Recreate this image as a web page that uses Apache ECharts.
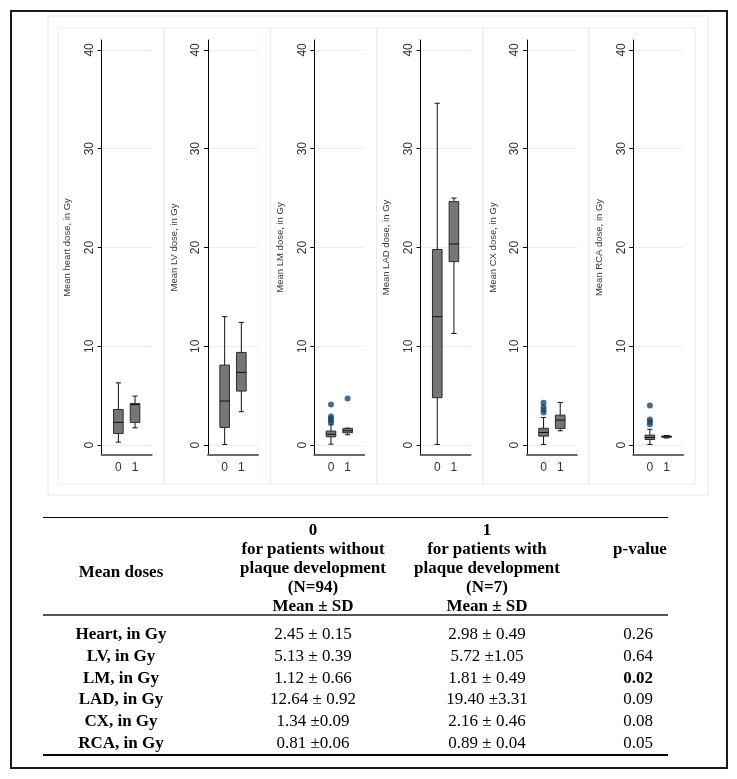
<!DOCTYPE html>
<html><head><meta charset="utf-8">
<script src="https://cdn.jsdelivr.net/npm/echarts@6/dist/echarts.min.js"></script>
<style>
html,body{margin:0;padding:0;background:#fff;}
#wrap{position:relative;width:737px;height:779px;overflow:hidden;background:#fff;}
#chart{position:absolute;left:0;top:0;width:737px;height:779px;}
#frame{position:absolute;left:10px;top:10px;width:718px;height:759px;border:2px solid #1a1a1a;box-sizing:border-box;}
.t{position:absolute;font-family:"Liberation Serif","Times New Roman",serif;font-size:17px;line-height:20px;height:20px;width:220px;text-align:center;color:#000;white-space:nowrap;}
.b{font-weight:bold;}
.hl{position:absolute;left:43px;width:625px;background:#000;}
</style></head>
<body>
<div id="wrap">
  <div id="chart"></div>
  <div id="frame"></div>
  <div id="table"></div>
</div>
<script>
// ---------- chart data ----------
const regions = ['Heart', 'LV', 'LM', 'LAD', 'CX', 'RCA'];
const axisTitles = ['Mean heart dose, in Gy', 'Mean LV dose, in Gy', 'Mean LM dose, in Gy',
                    'Mean LAD dose, in Gy', 'Mean CX dose, in Gy', 'Mean RCA dose, in Gy'];
const groups = ['0', '1'];
const yTicks = [0, 10, 20, 30, 40];
// [min, Q1, median, Q3, max] per region, group 0 (no plaque)
const boxes0 = [
  [0.3, 1.18, 2.3, 3.6, 6.3],
  [0.07, 1.79, 4.46, 8.1, 13.0],
  [0.1, 0.84, 1.1, 1.42, 2.05],
  [0.07, 4.8, 13.0, 19.8, 34.6],
  [0.07, 0.91, 1.28, 1.7, 2.8],
  [0.07, 0.57, 0.78, 1.01, 1.6]
];
// group 1 (plaque)
const boxes1 = [
  [1.75, 2.3, 4.1, 4.2, 4.96],
  [3.38, 5.47, 7.36, 9.38, 12.42],
  [1.05, 1.25, 1.45, 1.69, 1.72],
  [11.3, 18.57, 20.35, 24.64, 25.0],
  [1.45, 1.69, 2.53, 3.04, 4.32],
  [0.72, 0.8, 0.86, 0.92, 0.97]
];
const outliers0 = [[], [], [4.1, 2.9, 2.7, 2.5, 2.3], [], [4.3, 3.85, 3.55, 3.3], [4.0, 2.6, 2.36, 2.1]];
const outliers1 = [[], [], [4.73], [], [], []];

// ---------- table data ----------
const headerLabel = 'Mean doses';
const headerCol0 = ['0', 'for patients without', 'plaque development', '(N=94)', 'Mean ± SD'];
const headerCol1 = ['1', 'for patients with', 'plaque development', '(N=7)', 'Mean ± SD'];
const headerP = 'p-value';
const tableRows = ['Heart, in Gy', 'LV, in Gy', 'LM, in Gy', 'LAD, in Gy', 'CX, in Gy', 'RCA, in Gy'];
const noPlaque = ['2.45 ± 0.15', '5.13 ± 0.39', '1.12 ± 0.66', '12.64 ± 0.92', '1.34 ±0.09', '0.81 ±0.06'];
const withPlaque = ['2.98 ± 0.49', '5.72 ±1.05', '1.81 ± 0.49', '19.40 ±3.31', '2.16 ± 0.46', '0.89 ± 0.04'];
const pValues = ['0.26', '0.64', '0.02', '0.09', '0.08', '0.05'];
const significant = [false, false, true, false, false, false];

// ---------- chart ----------
const chart = echarts.init(document.getElementById('chart'), null, {renderer: 'canvas'});
const AXIS0 = 101.7, STEP = 106.3, GTOP = 40, GH = 415, GW = 50;
const FONT = '"Liberation Sans", Arial, sans-serif';

function renderBox(params, api) {
  const x = api.value(0);
  const v = [1, 2, 3, 4, 5].map(k => api.value(k));
  const pMin = api.coord([x, v[0]]), pQ1 = api.coord([x, v[1]]), pMed = api.coord([x, v[2]]),
        pQ3 = api.coord([x, v[3]]), pMax = api.coord([x, v[4]]);
  const cx = pMed[0], hw = 4.8, cw = 2.6;
  const ws = {stroke: '#111', lineWidth: 1, fill: null};
  return {
    type: 'group',
    children: [
      {type: 'line', shape: {x1: cx, y1: pQ3[1], x2: cx, y2: pMax[1]}, style: ws},
      {type: 'line', shape: {x1: cx, y1: pQ1[1], x2: cx, y2: pMin[1]}, style: ws},
      {type: 'line', shape: {x1: cx - cw, y1: pMax[1], x2: cx + cw, y2: pMax[1]}, style: ws},
      {type: 'line', shape: {x1: cx - cw, y1: pMin[1], x2: cx + cw, y2: pMin[1]}, style: ws},
      {type: 'rect', shape: {x: cx - hw, y: pQ3[1], width: hw * 2, height: Math.max(pQ1[1] - pQ3[1], 1)},
       style: {fill: '#767676', stroke: '#2b2b2b', lineWidth: 1}},
      {type: 'line', shape: {x1: cx - hw, y1: pMed[1], x2: cx + hw, y2: pMed[1]}, style: {stroke: '#111', lineWidth: 1}}
    ]
  };
}

const grids = [], xAxes = [], yAxes = [], series = [], graphics = [];
graphics.push({type: 'rect', shape: {x: 48, y: 16, width: 660, height: 479},
  style: {fill: null, stroke: '#e2e8e8', lineWidth: 1}, silent: true, z: -10});
regions.forEach((r, i) => {
  graphics.push({type: 'rect', shape: {x: 58 + 106.2 * i, y: 28, width: 106.2, height: 456},
    style: {fill: null, stroke: '#e8eded', lineWidth: 1}, silent: true, z: -10});
  grids.push({left: AXIS0 + STEP * i, top: GTOP, width: GW, height: GH});
  xAxes.push({
    gridIndex: i, type: 'value', min: -1, max: 2,
    axisLine: {show: true, onZero: false, lineStyle: {color: '#6a6a6a', width: 2}},
    axisTick: {show: false}, splitLine: {show: false},
    axisLabel: {customValues: [0, 1], formatter: v => groups[v], color: '#333', fontSize: 12, margin: 7, fontFamily: FONT}
  });
  yAxes.push({
    gridIndex: i, type: 'value', min: -1, max: 41,
    name: axisTitles[i], nameLocation: 'middle', nameGap: 29, nameRotate: 90,
    nameTextStyle: {fontSize: 9.5, color: '#3a3a3a', fontFamily: FONT},
    axisLine: {show: true, onZero: false, lineStyle: {color: '#000', width: 1}},
    axisTick: {show: true, length: 4, customValues: yTicks, lineStyle: {color: '#000'}},
    axisLabel: {customValues: yTicks, rotate: 90, fontSize: 12, color: '#333', margin: 6, fontFamily: FONT},
    splitLine: {show: true, lineStyle: {color: '#eceff0', width: 1}}
  });
  series.push({
    type: 'custom', xAxisIndex: i, yAxisIndex: i, renderItem: renderBox,
    encode: {x: 0, y: [1, 2, 3, 4, 5]},
    data: [[0].concat(boxes0[i]), [1].concat(boxes1[i])], z: 3
  });
  const pts = outliers0[i].map(v => [0, v]).concat(outliers1[i].map(v => [1, v]));
  series.push({
    type: 'scatter', xAxisIndex: i, yAxisIndex: i, symbol: 'circle', symbolSize: 6,
    itemStyle: {color: '#1a476f'}, data: pts, z: 4
  });
});

chart.setOption({
  animation: false, backgroundColor: '#fff',
  grid: grids, xAxis: xAxes, yAxis: yAxes, series: series, graphic: graphics
});

// ---------- table ----------
const tbl = document.getElementById('table');
function addText(txt, cx, cy, bold) {
  const d = document.createElement('div');
  d.className = 't' + (bold ? ' b' : '');
  d.style.left = (cx - 110) + 'px';
  d.style.top = (cy - 10) + 'px';
  d.textContent = txt;
  tbl.appendChild(d);
}
function addLine(y, h, color) {
  const d = document.createElement('div');
  d.className = 'hl';
  d.style.top = y + 'px'; d.style.height = h + 'px'; d.style.background = color;
  tbl.appendChild(d);
}
const COLS = [121, 313, 487, 638];
const HEAD_Y = 530, HEAD_STEP = 19, ROW_Y = 634, ROW_STEP = 21.8;
addLine(516.5, 1.5, '#000');
headerCol0.forEach((t, k) => addText(t, COLS[1], HEAD_Y + HEAD_STEP * k, true));
headerCol1.forEach((t, k) => addText(t, COLS[2], HEAD_Y + HEAD_STEP * k, true));
addText(headerLabel, COLS[0], HEAD_Y + HEAD_STEP * 2.2, true);
addText(headerP, 640, HEAD_Y + HEAD_STEP * 1, true);
addLine(613.5, 2, '#555');
tableRows.forEach((t, k) => {
  const y = ROW_Y + ROW_STEP * k;
  addText(t, COLS[0], y, true);
  addText(noPlaque[k], COLS[1], y, false);
  addText(withPlaque[k], COLS[2], y, false);
  addText(pValues[k], COLS[3], y, significant[k]);
});
addLine(754, 1.5, '#000');
</script>
</body></html>
